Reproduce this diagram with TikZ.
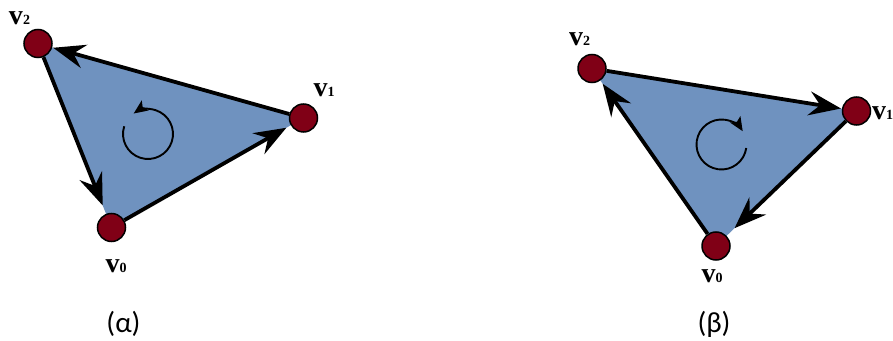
\documentclass[tikz,border=0pt]{standalone}
\usepackage{fontspec}
\setmainfont{Liberation Serif}
\newfontfamily\capfont{Carlito}
\usetikzlibrary{arrows.meta}
\definecolor{faceblue}{RGB}{111,146,191}
\definecolor{vertred}{RGB}{128,0,22}
\newcommand{\vlab}[1]{{\fontsize{28}{28}\selectfont\bfseries v}{\fontsize{14}{14}\selectfont\bfseries #1}}
\tikzset{
  x=1pt, y=1pt,
  vert/.style={circle, fill=vertred, draw=black, line width=1.5pt, minimum size=28pt, inner sep=0pt},
  edgearrow/.style={line width=3.8pt, -{Stealth[length=32pt,width=24pt,inset=11pt]}},
  rotarrow/.style={line width=1.9pt, -{Stealth[length=14pt,width=12pt,inset=3pt]}},
  vname/.style={anchor=base, inner sep=0pt},
  capname/.style={anchor=base, inner sep=0pt, font=\capfont\fontsize{29}{29}\selectfont}
}
\begin{document}
\begin{tikzpicture}
\useasboundingbox (0,0) rectangle (893,340);
\clip (0,0) rectangle (893,340);
% ---------- left (alpha) ----------
\coordinate (la) at (111.5,112.5);
\coordinate (lb) at (303.5,222);
\coordinate (lc) at (38,296.5);
\fill[faceblue] (la) -- (lb) -- (lc) -- cycle;
\node[vert] (L0) at (la) {};
\node[vert] (L1) at (lb) {};
\node[vert] (L2) at (lc) {};
\draw[edgearrow, shorten >=5pt] (L0) -- (L1);
\draw[edgearrow, shorten >=1pt] (L1) -- (L2);
\draw[edgearrow, shorten >=9pt] (L2) -- (L0);
\coordinate (lrot) at (148,206);
\draw[rotarrow] ([shift={(162:25pt)}]lrot) arc[start angle=162, end angle=485, radius=25pt];
\node[vname] (tl2) at (19.5,315) {\vlab{2}};
\node[vname] (tl1) at (324,243) {\vlab{1}};
\node[vname] (tl0) at (116,68) {\vlab{0}};
\node[capname] (capa) at (123.5,8) {(α)};
% ---------- right (beta) ----------
\coordinate (ra) at (716,94);
\coordinate (rb) at (856.5,229);
\coordinate (rc) at (592,271.5);
\fill[faceblue] (ra) -- (rb) -- (rc) -- cycle;
\node[vert] (R0) at (ra) {};
\node[vert] (R1) at (rb) {};
\node[vert] (R2) at (rc) {};
\draw[edgearrow, shorten >=1pt] (R2) -- (R1);
\draw[edgearrow, shorten >=11pt] (R1) -- (R0);
\draw[edgearrow, shorten >=4pt] (R0) -- (R2);
\coordinate (rrot) at (721.5,195.5);
\draw[rotarrow] ([shift={(-8:25pt)}]rrot) arc[start angle=-8, end angle=-328, radius=25pt];
\node[vname] (tr2) at (579.5,294) {\vlab{2}};
\node[vname, anchor=base west] (tr1) at (872,220) {\vlab{1}};
\node[vname] (tr0) at (712,58) {\vlab{0}};
\node[capname] (capb) at (714,8) {(β)};
\end{tikzpicture}
\end{document}
